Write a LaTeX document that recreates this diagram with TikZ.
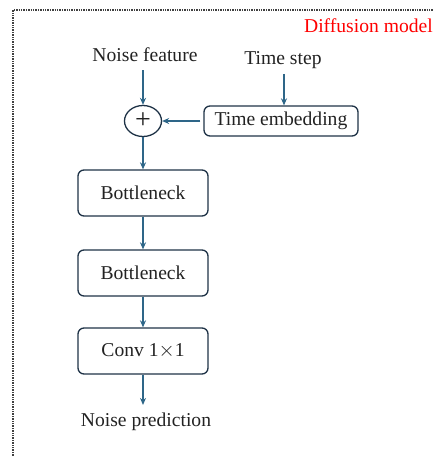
\documentclass[tikz,border=0pt]{standalone}
\usepackage{fontspec}
\setmainfont{Liberation Serif}
\usetikzlibrary{arrows.meta,shapes.geometric}
\definecolor{flowblue}{HTML}{2E6688}
\definecolor{boxedge}{HTML}{1E3246}
\definecolor{txt}{HTML}{222222}
\tikzset{
  lbl/.style={text=txt,font=\fontsize{19.6}{23}\selectfont,inner sep=0pt},
  block/.style={lbl,draw=boxedge,line width=1.3pt,rounded corners=6pt,
    minimum width=130pt,minimum height=46pt},
  flow/.style={draw=flowblue,line width=1.2pt,-{Stealth[length=7pt,width=6pt]}},
}
\begin{document}
\begin{tikzpicture}[x=1pt,y=-1pt]
\useasboundingbox (0,0) rectangle (434,456);
\begin{scope}
\clip (0,0) rectangle (434,456);
% dotted outline of the model
\draw[densely dotted,line width=1.4pt,draw=black!75] (13,470) -- (13,10) -- (450,10);
\end{scope}
\node[lbl,text=red,anchor=base east] (title) at (433,32) {Diffusion model};

\node[lbl] (noise) at (145,55) {Noise feature};
\node[lbl] (tstep) at (283,60) {Time step};
\node[draw=boxedge,line width=1.3pt,ellipse,minimum width=37pt,minimum height=31pt,inner sep=0pt,
  text=txt,font=\fontsize{28}{28}\selectfont] (add) at (143,121) {+};
\node[block,minimum width=154pt,minimum height=30pt] (temb) at (281,121) {Time embedding};
\node[block] (b1) at (143,193) {Bottleneck};
\node[block] (b2) at (143,273) {Bottleneck};
\node[block] (conv) at (143,351) {Conv 1$\times$1};
\node[lbl] (pred) at (146,422) {Noise prediction};

\draw[flow] ([yshift=-8pt]noise.south -| add.north) -- (add.north);
\draw[flow] ([yshift=-5pt]tstep.south -| 284,0) -- (temb.north -| 284,0);
\draw[flow] ([xshift=-3pt]temb.west) -- (add.east);
\draw[flow] (add.south) -- (b1.north);
\draw[flow] (b1.south) -- (b2.north);
\draw[flow] (b2.south) -- (conv.north);
\draw[flow] (conv.south) -- ([yshift=8pt]pred.north -| conv.south);
\end{tikzpicture}
\end{document}
